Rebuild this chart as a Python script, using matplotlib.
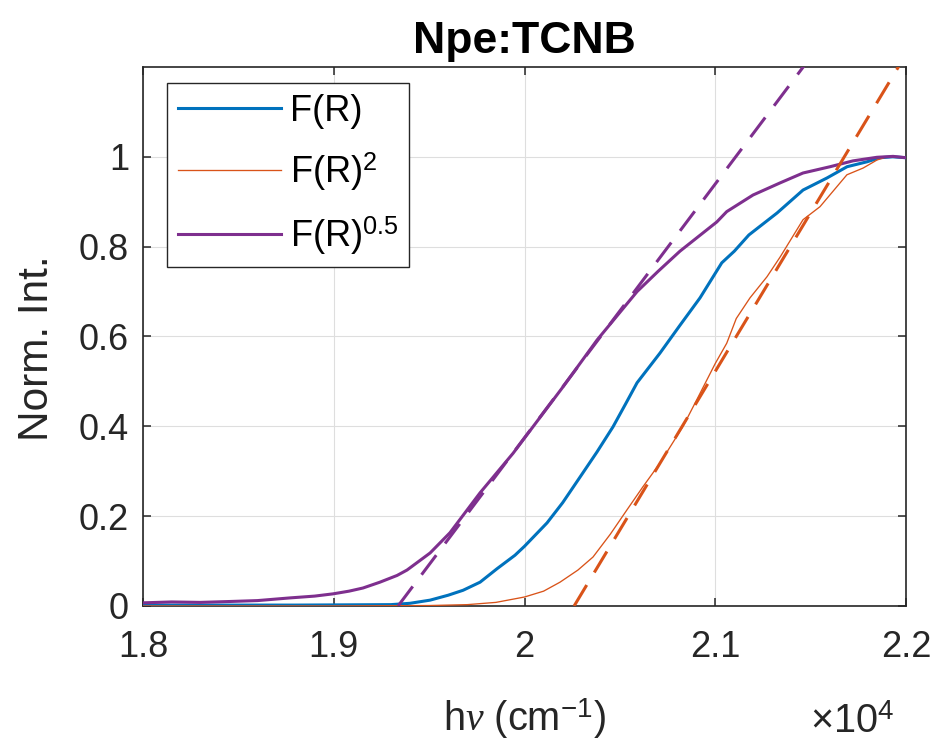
import matplotlib
matplotlib.use('Agg')
import matplotlib.pyplot as plt
from matplotlib.ticker import FuncFormatter

# wavenumbers (cm^-1) and normalised intensities
fr_x = [18000, 18800, 19300, 19400, 19505, 19600, 19678, 19767, 19856, 19950,
        20000, 20118, 20200, 20291, 20380, 20464, 20530, 20590, 20650, 20710,
        20815, 20920, 21034, 21100, 21176, 21324, 21460, 21586, 21691, 21796,
        21864, 21930, 22000]
fr_y = [0.002, 0.002, 0.003, 0.006, 0.013, 0.024, 0.035, 0.053, 0.083, 0.113,
        0.133, 0.185, 0.230, 0.287, 0.343, 0.399, 0.450, 0.497, 0.530, 0.563,
        0.625, 0.686, 0.764, 0.790, 0.826, 0.875, 0.926, 0.953, 0.978, 0.989,
        0.998, 1.000, 0.998]

fr2_x = [18000, 19000, 19500, 19700, 19850, 20000, 20100, 20186, 20280, 20359,
         20450, 20537, 20620, 20710, 20831, 20904, 21000, 21060, 21110, 21182,
         21271, 21340, 21460, 21549, 21690, 21775, 21848, 21900, 22000]
fr2_y = [0.000, 0.000, 0.001, 0.003, 0.008, 0.020, 0.033, 0.053, 0.080, 0.109,
         0.160, 0.214, 0.265, 0.318, 0.400, 0.460, 0.540, 0.585, 0.640, 0.686,
         0.733, 0.777, 0.860, 0.889, 0.960, 0.975, 0.993, 1.000, 0.998]

frh_x = [18000, 18150, 18300, 18456, 18600, 18771, 18900, 18996, 19080, 19153,
         19242, 19332, 19384, 19505, 19609, 19767, 19940, 20000, 20202, 20380,
         20590, 20700, 20815, 21008, 21060, 21198, 21340, 21460, 21602, 21722,
         21848, 21932, 22000]
frh_y = [0.007, 0.009, 0.008, 0.010, 0.012, 0.018, 0.022, 0.027, 0.033, 0.040,
         0.053, 0.068, 0.080, 0.118, 0.163, 0.252, 0.340, 0.374, 0.488, 0.592,
         0.700, 0.745, 0.790, 0.855, 0.878, 0.915, 0.942, 0.964, 0.978, 0.991,
         0.999, 1.001, 0.998]

# linear band-edge fits: x-intercept and slope (per cm^-1)
fit2_x0, fit2_slope = 20260, 7.06e-4
fith_x0, fith_slope = 19337, 5.65e-4

labels = ['F(R)', 'F(R)$^2$', 'F(R)$^{0.5}$']
xticks = [1.8, 1.9, 2.0, 2.1, 2.2]
yticks = [0, 0.2, 0.4, 0.6, 0.8, 1.0]

blue = '#0072BD'
orange = '#D95319'
purple = '#7E2F8E'
dark = '#262626'

plt.rcParams['font.family'] = ['Liberation Sans', 'DejaVu Sans']
plt.rcParams['mathtext.fontset'] = 'custom'
plt.rcParams['mathtext.rm'] = 'Liberation Sans'
plt.rcParams['mathtext.it'] = 'Liberation Serif:italic'
plt.rcParams['mathtext.bf'] = 'Liberation Sans:bold'

fig = plt.figure(figsize=(9.39, 7.51), dpi=100)
ax = fig.add_axes([0.1523, 0.1931, 0.8126, 0.7177])

sc = 1e4
ax.plot([x / sc for x in fr_x], fr_y, color=blue, lw=2.2, label=labels[0], zorder=3)
ax.plot([x / sc for x in fr2_x], fr2_y, color=orange, lw=0.95, label=labels[1], zorder=3)
ax.plot([x / sc for x in frh_x], frh_y, color=purple, lw=2.2, label=labels[2], zorder=3)

dash = (0, (8.0, 4.8))
for x0, k, c in [(fit2_x0, fit2_slope, orange), (fith_x0, fith_slope, purple)]:
    xs = [x0, 22000]
    ax.plot([x / sc for x in xs], [k * (x - x0) for x in xs], color=c, lw=2.2,
            linestyle=dash, zorder=3)

ax.set_xlim(1.8, 2.2)
ax.set_ylim(0, 1.2)
ax.set_xticks(xticks)
ax.set_yticks(yticks)
ax.xaxis.set_major_formatter(FuncFormatter(lambda v, p: '%g' % round(v, 3)))
ax.yaxis.set_major_formatter(FuncFormatter(lambda v, p: '%g' % round(v, 3)))

ax.grid(True, color='#dedede', lw=0.8, zorder=0)
ax.set_axisbelow(True)
for s in ax.spines.values():
    s.set_color(dark)
    s.set_linewidth(1.2)
ax.tick_params(direction='in', length=5.8, width=1.1, color=dark,
               labelsize=26, labelcolor=dark, top=True, right=True)
ax.tick_params(axis='x', pad=17)
ax.tick_params(axis='y', pad=10)

ax.set_title('Npe:TCNB', fontsize=32, fontweight='bold', pad=10)
ax.set_xlabel(r'h$\nu$ (cm$^{-1}$)', fontsize=28.6, color=dark, labelpad=23)
ax.set_ylabel('Norm. Int.', fontsize=30.5, color=dark)
ax.yaxis.set_label_coords(-0.113, 0.479)
ax.text(0.874, -0.2356, r'$\times$10$^4$', transform=ax.transAxes, fontsize=28.6,
        color=dark, ha='left', va='baseline')

leg = ax.legend(loc='upper left', bbox_to_anchor=(0.0315, 0.970), borderaxespad=0,
                fontsize=26, handlelength=2.85, handletextpad=0.25, borderpad=0.3,
                labelspacing=0.6, fancybox=False, framealpha=1, edgecolor=dark)
leg.get_frame().set_linewidth(1.0)

fig.savefig('out.png', dpi=100, facecolor='white')
